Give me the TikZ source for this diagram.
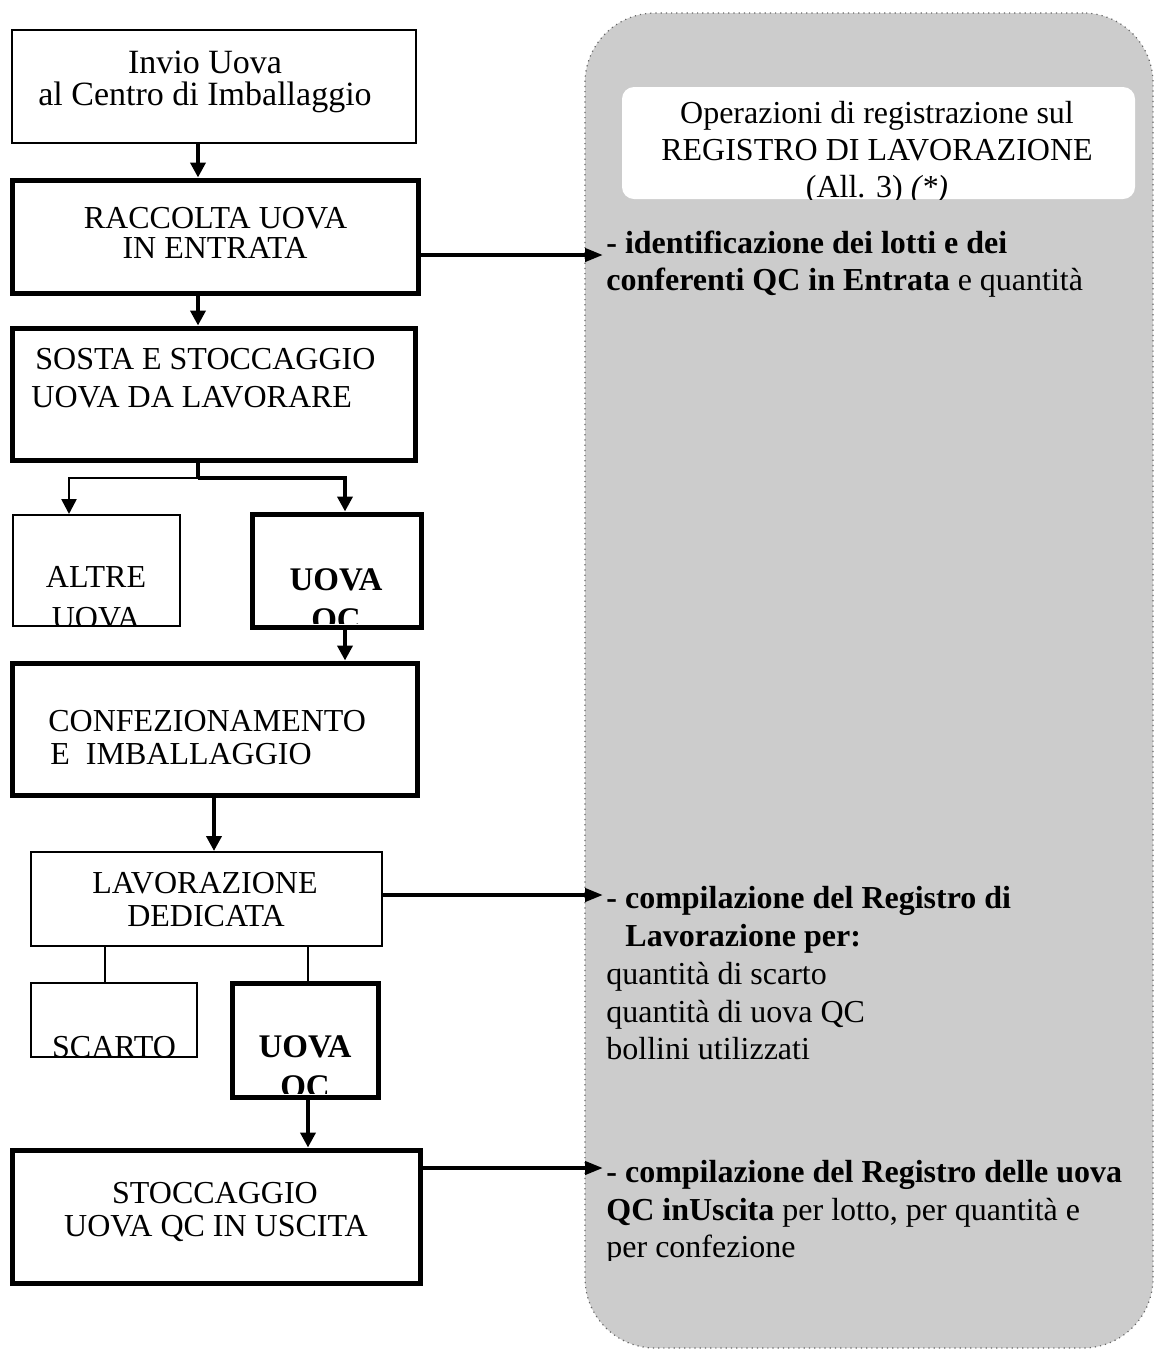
\documentclass[tikz,border=0pt]{standalone}
\usepackage{fontspec}
\setmainfont{Liberation Serif}
\usetikzlibrary{arrows.meta,calc}
\begin{document}
\begin{tikzpicture}[x=0.5pt,y=-0.5pt,
  thinbox/.style={draw, line width=1pt, inner sep=0pt, rectangle},
  thickbox/.style={draw, line width=2.5pt, inner sep=0pt, rectangle},
  txt/.style={inner sep=0pt, anchor=base, font=\fontsize{16pt}{18.5pt}\selectfont},
  ltxt/.style={txt, anchor=base west},
  btxt/.style={txt, font=\fontsize{16.5pt}{18.5pt}\selectfont\bfseries},
  thickarrow/.style={line width=2.4pt, -{Triangle[length=7.5pt,width=7.5pt]}},
  harrow/.style={line width=2pt, -{Triangle[length=9pt,width=6.5pt]}},
  thinarrow/.style={line width=1.3pt, -{Triangle[length=7.5pt,width=7.5pt]}},
  thinline/.style={line width=1pt},
  thickline/.style={line width=2.4pt},
  panelbox/.style={fill=black!20, draw=black!60, dotted, line width=0.6pt, rounded corners=35pt, inner sep=0pt},
  notebox/.style={fill=white, rounded corners=6pt, inner sep=0pt}]
\useasboundingbox (0,0) rectangle (1155,1350);

% right grey panel
\node[panelbox, minimum width=284pt, minimum height=667.5pt] (panel) at (869,680.5) {};
\node[notebox, minimum width=256.5pt, minimum height=56pt] (wb) at (878.5,143) {};
\begin{scope}
  \clip (wb.south west) rectangle (wb.north east);
  \node[txt] (h1) at (877,123) {Operazioni di registrazione sul};
  \node[txt] (h2) at (877,160) {REGISTRO DI LAVORAZIONE};
  \node[txt] (h3) at (877,197) {(All. 3) \textit{(*)}};
\end{scope}

% right panel texts
\node[ltxt] (t1a) at (606,253) {\textbf{- identificazione dei lotti e dei}};
\node[ltxt] (t1b) at (606,290) {\textbf{conferenti QC in Entrata} e quantità};

\node[ltxt] (t2a) at (606,908) {\textbf{- compilazione del Registro di}};
\node[ltxt] (t2b) at (625,946) {\textbf{Lavorazione per:}};
\node[ltxt] (t2c) at (606,984) {quantità di scarto};
\node[ltxt] (t2d) at (606,1022) {quantità di uova QC};
\node[ltxt] (t2e) at (606,1059) {bollini utilizzati};

\node[ltxt] (t3a) at (606,1182) {\textbf{- compilazione del Registro delle uova}};
\node[ltxt] (t3b) at (606,1220) {\textbf{QC inUscita} per lotto, per quantità e};
\begin{scope}
  \clip (590,1230) rectangle (1150,1260);
  \node[ltxt] (t3c) at (606,1257) {per confezione};
\end{scope}

% left flow boxes
\node[thinbox, minimum width=202pt, minimum height=56.5pt] (b1) at (214,86.5) {};
\node[txt, font=\fontsize{17pt}{18pt}\selectfont] (b1a) at (205,73) {Invio Uova};
\node[txt, font=\fontsize{17pt}{18pt}\selectfont] (b1b) at (205,105) {al Centro di Imballaggio};

\node[thickbox, minimum width=203pt, minimum height=56.5pt] (b2) at (215,236.5) {};
\node[txt] (b2a) at (215.5,228) {RACCOLTA UOVA};
\node[txt] (b2b) at (215,258) {IN ENTRATA};

\node[thickbox, minimum width=201.5pt, minimum height=66pt] (b3) at (213.5,394) {};
\node[ltxt] (b3a) at (35,369) {SOSTA E STOCCAGGIO};
\node[ltxt] (b3b) at (31,407) {UOVA DA LAVORARE};

\node[thinbox, minimum width=83.5pt, minimum height=55.5pt] (b4) at (96.5,570.5) {};
\begin{scope}
  \clip ([shift={(2,-2)}]b4.south west) rectangle ([shift={(-2,2)}]b4.north east);
  \node[txt] (b4a) at (96,587) {ALTRE};
  \node[txt] (b4b) at (96,628) {UOVA};
\end{scope}

\node[thickbox, minimum width=84.5pt, minimum height=56.5pt] (b5) at (336.5,570.5) {};
\begin{scope}
  \clip ([shift={(4,-6)}]b5.south west) rectangle ([shift={(-4,4)}]b5.north east);
  \node[btxt] (b5a) at (336,590) {UOVA};
  \node[btxt] (b5b) at (336,630) {QC};
\end{scope}

\node[thickbox, minimum width=202.5pt, minimum height=66pt] (b6) at (214.5,729) {};
\node[ltxt] (b6a) at (48,731) {CONFEZIONAMENTO};
\node[ltxt] (b6b) at (50,764) {E\ \ IMBALLAGGIO};

\node[thinbox, minimum width=175.5pt, minimum height=47pt] (b7) at (206.5,899) {};
\node[txt] (b7a) at (205,893) {LAVORAZIONE};
\node[txt] (b7b) at (206,926) {DEDICATA};

\node[thinbox, minimum width=83pt, minimum height=37pt] (b8) at (114,1020) {};
\begin{scope}
  \clip ([shift={(2,-3)}]b8.south west) rectangle ([shift={(-2,2)}]b8.north east);
  \node[txt] (b8a) at (114,1057) {SCARTO};
\end{scope}

\node[thickbox, minimum width=73pt, minimum height=57pt] (b9) at (305,1040) {};
\begin{scope}
  \clip ([shift={(4,-6)}]b9.south west) rectangle ([shift={(-4,4)}]b9.north east);
  \node[btxt] (b9a) at (305,1057) {UOVA};
  \node[btxt] (b9b) at (305,1097) {QC};
\end{scope}

\node[thickbox, minimum width=204pt, minimum height=66.5pt] (b10) at (216,1216.5) {};
\node[txt] (b10a) at (215,1203) {STOCCAGGIO};
\node[txt] (b10b) at (216,1236) {UOVA QC IN USCITA};

% connector reference coordinates
\coordinate (xa) at (198,0);
\coordinate (xl) at (69,0);
\coordinate (xr) at (345,0);
\coordinate (xc) at (214,0);
\coordinate (xs) at (105,0);
\coordinate (xq) at (308,0);
\coordinate (split) at (198,478);
\coordinate (in1) at (603,255);
\coordinate (in2) at (603,895);
\coordinate (in3) at (603,1168);

% vertical connectors
\draw[thickarrow] (b1.south -| xa) -- (b2.north -| xa);
\draw[thickarrow] (b2.south -| xa) -- (b3.north -| xa);
\draw[thickline] (b3.south -| xa) -- (split);
\draw[thinarrow] (split) -| (b4.north -| xl);
\draw[thickarrow] (split) -| (b5.north -| xr);
\draw[thickarrow] (b5.south -| xr) -- (b6.north -| xr);
\draw[thickarrow] (b6.south -| xc) -- (b7.north -| xc);
\draw[thinline] (b7.south -| xs) -- (b8.north -| xs);
\draw[thinline] (b7.south -| xq) -- (b9.north -| xq);
\draw[thickarrow] (b9.south -| xq) -- (b10.north -| xq);

% horizontal connectors to the register panel
\draw[harrow] (b2.east |- in1) -- (in1);
\draw[harrow] (b7.east |- in2) -- (in2);
\draw[harrow] (b10.east |- in3) -- (in3);
\end{tikzpicture}
\end{document}
